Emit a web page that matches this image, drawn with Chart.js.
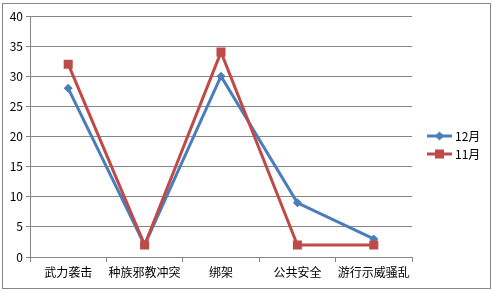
<!DOCTYPE html>
<html>
<head>
<meta charset="utf-8">
<script src="https://cdn.jsdelivr.net/npm/chart.js@4/dist/chart.umd.min.js"></script>
<style>
  html, body { margin: 0; padding: 0; background: #fff; }
  #box { position: absolute; left: 2px; top: 3px; width: 487px; height: 284px; border: 1px solid #878787; }
  canvas { display: block; }
</style>
</head>
<body>
<div id="box"><canvas id="c" width="487" height="284"></canvas></div>
<script>
const categories = ["武力袭击", "种族邪教冲突", "绑架", "公共安全", "游行示威骚乱"];
const seriesNames = ["12月", "11月"];
const dec = [28, 2, 30, 9, 3];
const nov = [32, 2, 34, 2, 2];
const yTicks = [0, 5, 10, 15, 20, 25, 30, 35, 40];

const BLUE = "#4A7EBB";
const RED = "#BE4B48";
const GRID = "#868686";
const FONT = "'Noto Sans CJK SC', 'Noto Sans', sans-serif";

const legendPlugin = {
  id: "customLegend",
  afterDraw(chart) {
    const ctx = chart.ctx;
    const ca = chart.chartArea;
    const x0 = ca.right + 15;
    const ys = [132, 150];
    ctx.save();
    chart.data.datasets.forEach((ds, i) => {
      const y = ys[i];
      ctx.strokeStyle = ds.borderColor;
      ctx.lineWidth = 3;
      ctx.beginPath();
      ctx.moveTo(x0, y);
      ctx.lineTo(x0 + 25, y);
      ctx.stroke();
      ctx.fillStyle = ds.borderColor;
      const cx = x0 + 12.5;
      if (ds.pointStyle === "rect") {
        ctx.fillRect(cx - 4.5, y - 4.5, 9, 9);
      } else {
        ctx.beginPath();
        ctx.moveTo(cx, y - 4.5);
        ctx.lineTo(cx + 4.5, y);
        ctx.lineTo(cx, y + 4.5);
        ctx.lineTo(cx - 4.5, y);
        ctx.closePath();
        ctx.fill();
      }
      ctx.fillStyle = "#000";
      ctx.font = "12px " + FONT;
      ctx.textBaseline = "middle";
      ctx.textAlign = "left";
      ctx.fillText(ds.label, x0 + 28, y);
    });
    ctx.restore();
  }
};

new Chart(document.getElementById("c"), {
  type: "line",
  data: {
    labels: categories,
    datasets: [
      {
        label: seriesNames[0], data: dec, borderColor: BLUE, backgroundColor: BLUE,
        borderWidth: 3, pointStyle: "rectRot", pointRadius: 4.5, pointBorderWidth: 0,
        tension: 0, order: 1
      },
      {
        label: seriesNames[1], data: nov, borderColor: RED, backgroundColor: RED,
        borderWidth: 3, pointStyle: "rect", pointRadius: 6.4, pointBorderWidth: 0,
        tension: 0, order: 0
      }
    ]
  },
  options: {
    responsive: false,
    animation: false,
    devicePixelRatio: 1,
    layout: { padding: { top: 12, right: 78, left: 0, bottom: 0 } },
    plugins: { legend: { display: false }, tooltip: { enabled: false } },
    scales: {
      x: {
        offset: true,
        grid: { offset: true, drawOnChartArea: false, color: GRID, tickLength: 5, tickColor: GRID },
        border: { color: GRID, width: 1 },
        ticks: { color: "#000", font: { family: FONT, size: 12 }, padding: 3, maxRotation: 0, autoSkip: false },
        afterFit(s) { s.height = 31; }
      },
      y: {
        min: 0, max: 40,
        afterBuildTicks(s) { s.ticks = yTicks.map(v => ({ value: v })); },
        grid: { color: GRID, tickLength: 4, tickColor: GRID },
        border: { color: GRID, width: 1 },
        ticks: { color: "#000", font: { family: FONT, size: 12 }, padding: 3 },
        afterFit(s) { s.width = 27; }
      }
    }
  },
  plugins: [legendPlugin]
});
</script>
</body>
</html>
